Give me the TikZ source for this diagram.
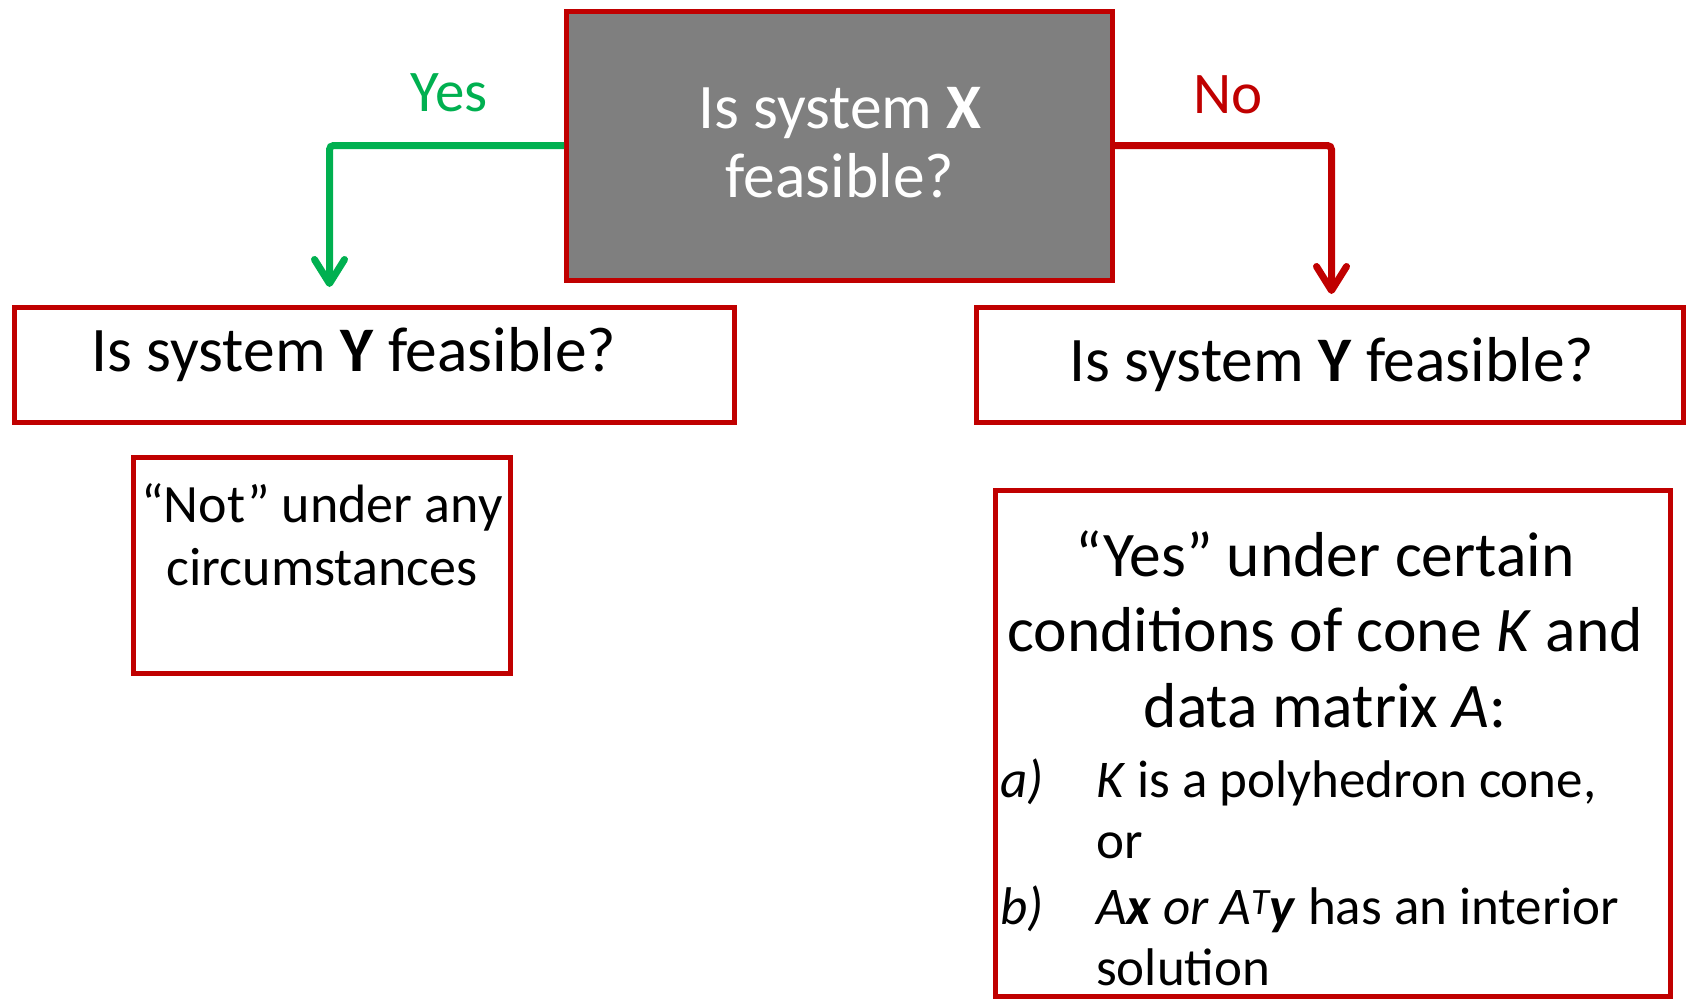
\documentclass[tikz,border=0pt]{standalone}
\usepackage{fontspec}
\setmainfont{Carlito}
\usetikzlibrary{arrows.meta}
\definecolor{dred}{HTML}{C00000}
\definecolor{pgreen}{HTML}{00B050}
\definecolor{pgray}{HTML}{7F7F7F}
\begin{document}
\begin{tikzpicture}[x=1pt,y=-1pt,
  box/.style={draw=dred, line width=5pt, inner sep=0pt, rectangle},
  lbl/.style={anchor=base, inner sep=0pt},
  big/.style={font=\fontsize{63.5}{69}\selectfont},
  mid/.style={font=\fontsize{59}{64}\selectfont},
  sml/.style={font=\fontsize{54}{60}\selectfont},
  lst/.style={font=\fontsize{53}{60}\selectfont},
  arr/.style={line width=7pt, rounded corners=4pt,
    -{Straight Barb[length=24pt,width=30pt,line cap=round,line join=round]}}
]
\useasboundingbox (0,0) rectangle (1688,999);
% boxes
\node[box, fill=pgray, minimum width=546pt, minimum height=269pt] (top) at (839.5,145.5) {};
\node[box, minimum width=720pt, minimum height=115pt] (leftY) at (374.5,365) {};
\node[box, minimum width=707pt, minimum height=115pt] (rightY) at (1330,365) {};
\node[box, minimum width=377pt, minimum height=216pt] (notbox) at (322,565.5) {};
\node[box, minimum width=675pt, minimum height=506pt] (yesbox) at (1333,743.5) {};
% texts
\node[lbl, big, text=white] (t1) at (840,128) {Is system \textbf{X}};
\node[lbl, big, text=white] (t2) at (840,197) {feasible?};
\node[lbl, big] (ly) at (354,371) {Is system \textbf{Y} feasible?};
\node[lbl, big] (ry) at (1332,381) {Is system \textbf{Y} feasible?};
\node[lbl, sml] (n1) at (322,522) {“Not” under any};
\node[lbl, sml] (n2) at (322,585) {circumstances};
\node[lbl, big] (y1) at (1325,576) {“Yes” under certain};
\node[lbl, big] (y2) at (1325,651) {conditions of cone \textit{K} and};
\node[lbl, big] (y3) at (1325,727) {data matrix \textit{A}:};
\node[lbl, lst, anchor=base west] (la) at (1000,797) {\textit{a)}};
\node[lbl, lst, anchor=base west] (ia) at (1096,797) {\textit{K} is a polyhedron cone,};
\node[lbl, lst, anchor=base west] (ia2) at (1096,858) {or};
\node[lbl, lst, anchor=base west] (lb) at (1000,924) {\textit{b)}};
\node[lbl, lst, anchor=base west] (ib) at (1096,924) {\textit{A\textbf{x} or A\textsuperscript{T}\textbf{y}} has an interior};
\node[lbl, lst, anchor=base west] (ib2) at (1096,985) {solution};
% labels
\node[lbl, mid, text=pgreen] (yes) at (449,111) {Yes};
\node[lbl, mid, text=dred] (no) at (1228,113) {No};
% arrows
\coordinate (tipL) at (329.5,287);
\coordinate (tipR) at (1331.5,294);
\draw[arr, pgreen] (top.west) -| (tipL);
\draw[arr, dred] (top.east) -| (tipR);
\end{tikzpicture}
\end{document}
